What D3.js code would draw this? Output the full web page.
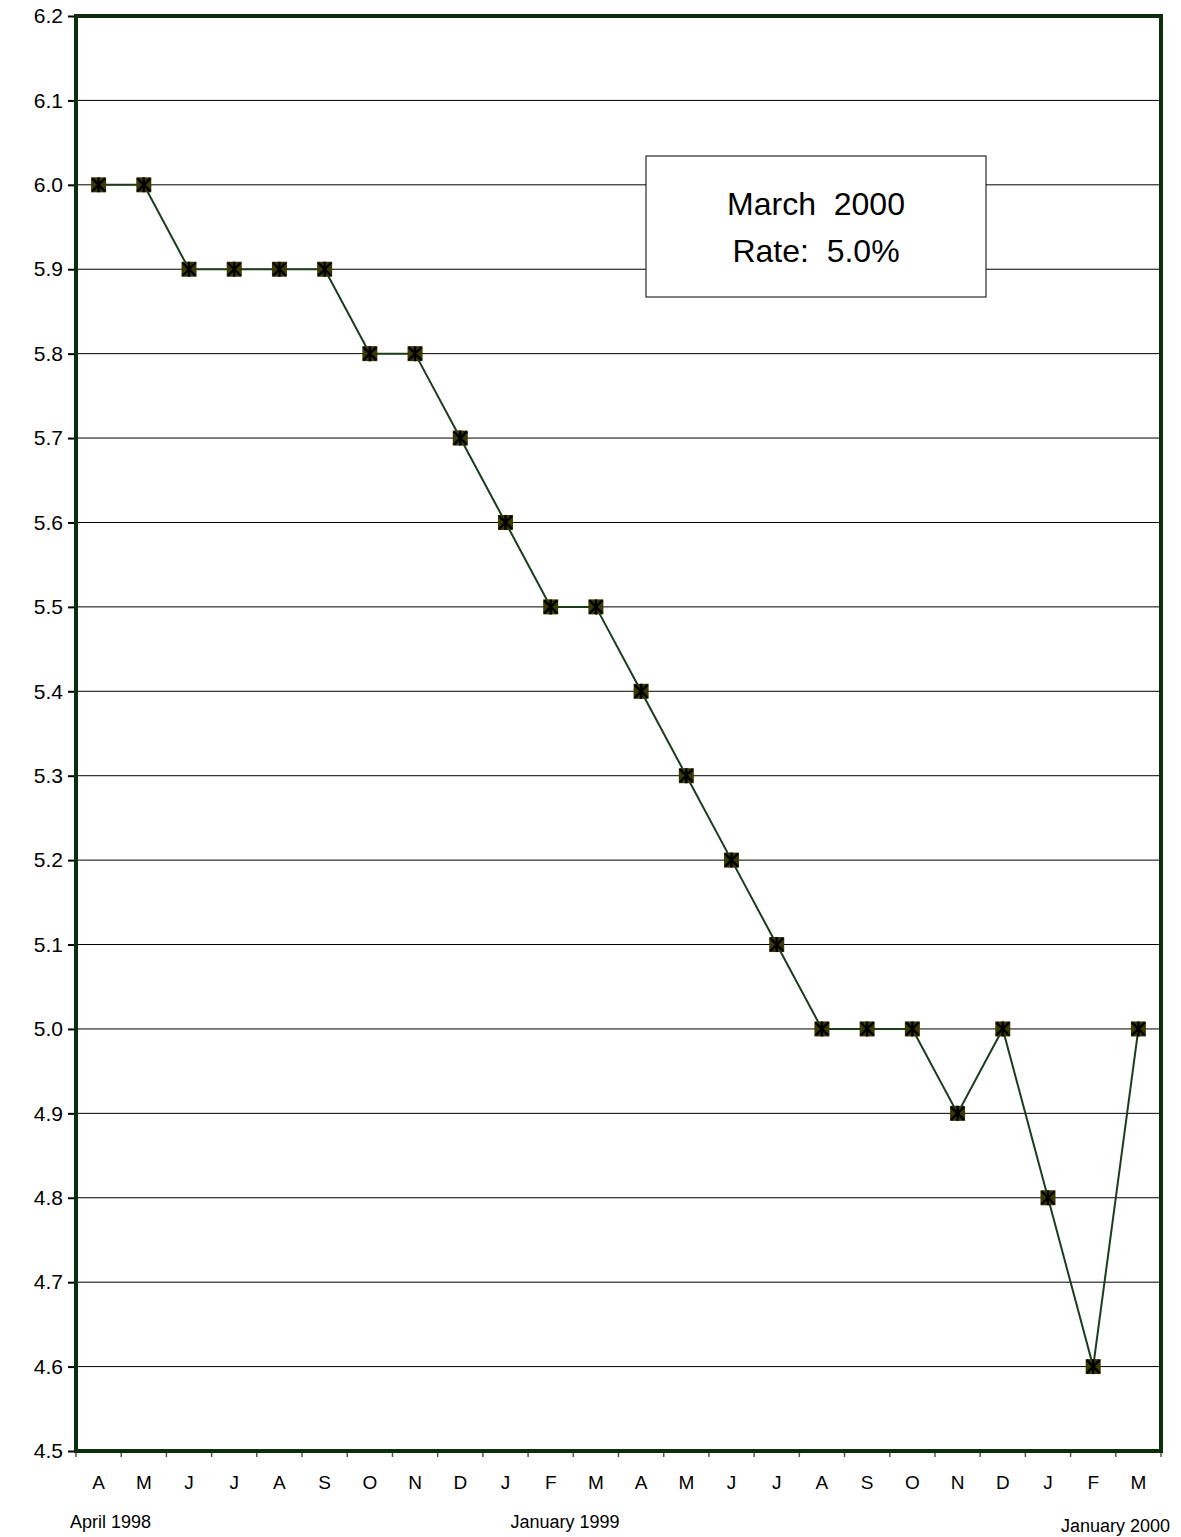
<!DOCTYPE html>
<html><head><meta charset="utf-8">
<script src="https://cdn.jsdelivr.net/npm/d3@7"></script>
<style>body{margin:0;background:#fff;font-family:Arial,"Liberation Sans",sans-serif;}</style>
</head><body><div class="chart"></div>
<script>
var months = ["A","M","J","J","A","S","O","N","D","J","F","M","A","M","J","J","A","S","O","N","D","J","F","M"];
var rates = [6.0,6.0,5.9,5.9,5.9,5.9,5.8,5.8,5.7,5.6,5.5,5.5,5.4,5.3,5.2,5.1,5.0,5.0,5.0,4.9,5.0,4.8,4.6,5.0];
var yTicks = [4.5,4.6,4.7,4.8,4.9,5.0,5.1,5.2,5.3,5.4,5.5,5.6,5.7,5.8,5.9,6.0,6.1,6.2];

var W = 1181, H = 1537,
    margin = {top: 16, right: 20, bottom: 86, left: 76},
    width = W - margin.left - margin.right,
    height = H - margin.top - margin.bottom;

var svg = d3.select(".chart").append("svg").attr("width", W).attr("height", H);
var g = svg.append("g").attr("transform", "translate(" + margin.left + "," + margin.top + ")");

var x = d3.scaleBand().domain(d3.range(months.length)).range([0, width]),
    y = d3.scaleLinear().domain([4.5, 6.2]).range([height, 0]);

// gridlines
g.selectAll(".grid").data(yTicks.slice(1, -1)).enter().append("line")
    .attr("x1", 0).attr("x2", width)
    .attr("y1", function(d) { return y(d); }).attr("y2", function(d) { return y(d); })
    .attr("stroke", "#000").attr("stroke-width", 1);

// y axis
var ya = g.append("g").call(d3.axisLeft(y).tickValues(yTicks).tickFormat(d3.format(".1f")).tickSize(8));
ya.select(".domain").remove();
ya.selectAll("line").attr("stroke", "#000").attr("stroke-width", 2);
ya.selectAll("text").style("font-size", "21px").style("font-family", "Arial,'Liberation Sans',sans-serif").attr("fill", "#000").attr("x", -13);

// x ticks at band boundaries
g.selectAll(".xt").data(d3.range(months.length + 1)).enter().append("line")
    .attr("x1", function(d) { return d * x.bandwidth(); }).attr("x2", function(d) { return d * x.bandwidth(); })
    .attr("y1", height).attr("y2", height + 6).attr("stroke", "#555").attr("stroke-width", 1.5);
g.selectAll(".xl").data(months).enter().append("text")
    .attr("x", function(d, i) { return x(i) + x.bandwidth() / 2; })
    .attr("y", height + 38).attr("text-anchor", "middle").attr("font-size", 19).text(function(d) { return d; });

// frame
g.append("rect").attr("width", width).attr("height", height)
    .attr("fill", "none").attr("stroke", "#0b2e0b").attr("stroke-width", 4);

// line
var line = d3.line().x(function(d, i) { return x(i) + x.bandwidth() / 2; }).y(function(d) { return y(d); });
g.append("path").datum(rates).attr("d", line).attr("fill", "none").attr("stroke", "#1a3d1a").attr("stroke-width", 2);

// markers
var m = g.selectAll(".mk").data(rates).enter().append("g")
    .attr("transform", function(d, i) { return "translate(" + (x(i) + x.bandwidth() / 2) + "," + y(d) + ")"; });
m.append("rect").attr("x", -7.5).attr("y", -7.5).attr("width", 15).attr("height", 15).attr("fill", "#3a3a00");
m.append("path").attr("d", "M-6.5,-6.5L6.5,6.5M6.5,-6.5L-6.5,6.5M0,-7.5L0,7.5").attr("stroke", "#000").attr("stroke-width", 2.4);

// annotation box
var bx = 646 - margin.left, by = 156 - margin.top;
g.append("rect").attr("x", bx).attr("y", by).attr("width", 340).attr("height", 141)
    .attr("fill", "#fff").attr("stroke", "#000").attr("stroke-width", 1);
g.append("text").attr("x", bx + 170).attr("y", by + 59).attr("text-anchor", "middle").attr("font-size", 32).attr("xml:space", "preserve").text("March  2000");
g.append("text").attr("x", bx + 170).attr("y", by + 106).attr("text-anchor", "middle").attr("font-size", 32).attr("xml:space", "preserve").text("Rate:  5.0%");

// period labels
svg.append("text").attr("x", 70).attr("y", 1528).attr("font-size", 18).text("April 1998");
svg.append("text").attr("x", 565).attr("y", 1528).attr("text-anchor", "middle").attr("font-size", 18).text("January 1999");
svg.append("text").attr("x", 1170).attr("y", 1537 - 5).attr("text-anchor", "end").attr("font-size", 18).text("January 2000");
</script></body></html>
